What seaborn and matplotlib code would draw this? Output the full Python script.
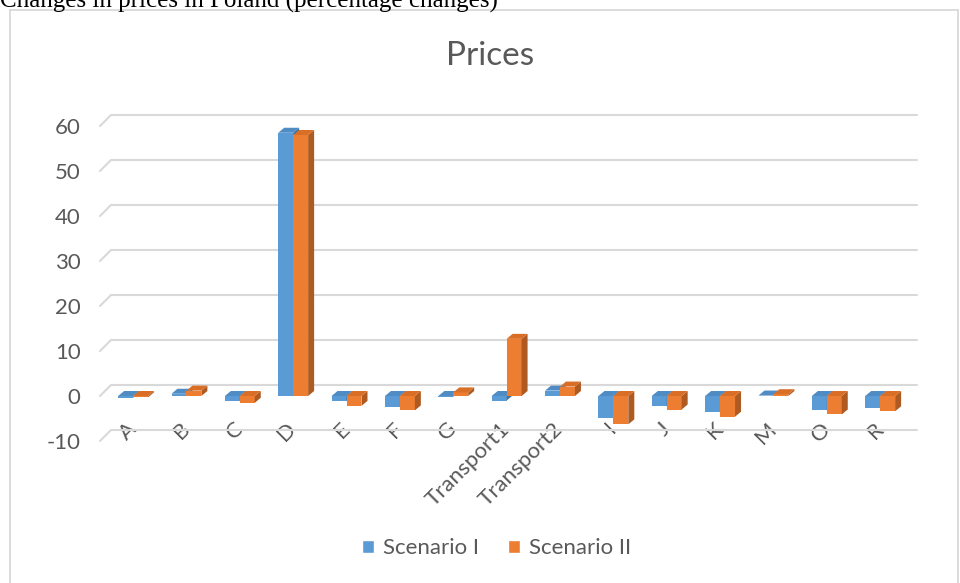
import matplotlib
matplotlib.use("Agg")
import matplotlib.pyplot as plt
import seaborn as sns
import pandas as pd
from matplotlib.patches import Polygon, Rectangle
from matplotlib.lines import Line2D

categories = ["A", "B", "C", "D", "E", "F", "G", "Transport1", "Transport2",
              "I", "J", "K", "M", "O", "R"]
scenario_1 = [-0.4, 0.5, -1.0, 58.5, -1.0, -2.5, -0.2, -1.0, 1.2,
              -4.8, -2.3, -3.5, 0.1, -3.2, -2.6]
scenario_2 = [-0.3, 1.2, -1.5, 58.0, -2.2, -3.2, 0.8, 12.7, 2.1,
              -6.3, -3.0, -4.6, 0.4, -4.1, -3.4]
series_names = ["Scenario I", "Scenario II"]
y_ticks = [-10, 0, 10, 20, 30, 40, 50, 60]

BLUE, ORANGE = "#5B9BD5", "#ED7D31"
BLUE_SIDE, ORANGE_SIDE = "#41719C", "#AE5A21"
BLUE_TOP, ORANGE_TOP = "#4F8CC4", "#D96E27"
GRID = "#D9D9D9"
TXT = "#595959"

df = pd.DataFrame({
    "Sector": categories * 2,
    "Change": scenario_1 + scenario_2,
    "Scenario": [series_names[0]] * len(categories) + [series_names[1]] * len(categories),
})

sns.set_theme(style="white")
plt.rcParams["font.family"] = ["Lato", "DejaVu Sans"]
plt.rcParams["axes.unicode_minus"] = False

W, H = 960, 583
fig = plt.figure(figsize=(W / 100, H / 100), dpi=100)
ax_l, ax_r, ax_t, ax_b = 100, 917, 126, 441
ax = fig.add_axes([ax_l / W, 1 - ax_b / H, (ax_r - ax_l) / W, (ax_b - ax_t) / H])
ax.patch.set_alpha(0)

sns.barplot(data=df, x="Sector", y="Change", hue="Scenario",
            palette=[BLUE, ORANGE], width=0.56, saturation=1,
            ax=ax, zorder=3)

ax.set_xlim(-0.62, 14.69)
ax.set_ylim(-10, 60)
ax.set_yticks(y_ticks)
ax.set_xlabel("")
ax.set_ylabel("")
for s in ax.spines.values():
    s.set_visible(False)
ax.tick_params(axis="y", length=0, pad=14, labelsize=16, labelcolor=TXT)
ax.tick_params(axis="x", length=0, pad=-11, labelsize=16, labelcolor=TXT)
for lab in ax.get_xticklabels():
    lab.set_rotation(45)
    lab.set_ha("right")
    lab.set_va("center")
    lab.set_rotation_mode("anchor")

fig.canvas.draw()
to_disp = ax.transData.transform
inv = ax.transData.inverted().transform

# gridlines with a slanted 3D floor edge (display px, y up)
depth = 11
for yt in y_ticks:
    x0 = ax.transAxes.transform((0, 0))[0]
    x1 = ax.transAxes.transform((1, 0))[0]
    y0 = to_disp((0, yt))[1]
    ln = Line2D([x0 / W, (x0 + depth) / W, x1 / W],
                [y0 / H, (y0 + depth) / H, (y0 + depth) / H],
                color=GRID, lw=1.5, zorder=1, transform=fig.transFigure,
                clip_on=False)
    ax.add_line(ln)

# 3D faces for bars
dxp, dyp = 6, 5
p0 = inv((0, 0))
p1 = inv((dxp, dyp))
ddx, ddy = p1[0] - p0[0], p1[1] - p0[1]
faces = [(BLUE_SIDE, BLUE_TOP), (ORANGE_SIDE, ORANGE_TOP)]
for i, cont in enumerate(ax.containers):
    side_c, top_c = faces[i]
    base_z = 3 + i * 0.5
    for bar in cont:
        bar.set_zorder(base_z)
        bar.set_edgecolor("none")
        bx, by = bar.get_x(), bar.get_y()
        bw, bh = bar.get_width(), bar.get_height()
        ylo, yhi = min(by, by + bh), max(by, by + bh)
        xr = bx + bw
        side = Polygon([(xr, ylo), (xr + ddx, ylo + ddy), (xr + ddx, yhi + ddy), (xr, yhi)],
                       closed=True, facecolor=side_c, edgecolor="none", zorder=base_z + 0.1)
        top = Polygon([(bx, yhi), (bx + ddx, yhi + ddy), (xr + ddx, yhi + ddy), (xr, yhi)],
                      closed=True, facecolor=top_c, edgecolor="none", zorder=base_z + 0.1)
        ax.add_patch(side)
        ax.add_patch(top)

sns.move_legend(ax, "center", bbox_to_anchor=(0.485, -0.34), ncol=2,
                frameon=False, title=None, fontsize=16, handlelength=0.55,
                handleheight=0.55, handletextpad=0.4, columnspacing=1.3)
for t in ax.get_legend().get_texts():
    t.set_color(TXT)

fig.text(490 / W, 1 - 56 / H, "Prices", ha="center", va="center",
         fontsize=24, color=TXT)

fig.add_artist(Rectangle((10 / W, -0.05), 948 / W, 1 - 10 / H + 0.05,
                         transform=fig.transFigure, fill=False,
                         edgecolor=GRID, lw=1.3, zorder=0))

fig.text(0, 1 - 8 / H, "Changes in prices in Poland (percentage changes)",
         ha="left", va="baseline", fontsize=18, color="black",
         family=["Liberation Serif", "DejaVu Serif"])

fig.savefig("out.png", dpi=100)
